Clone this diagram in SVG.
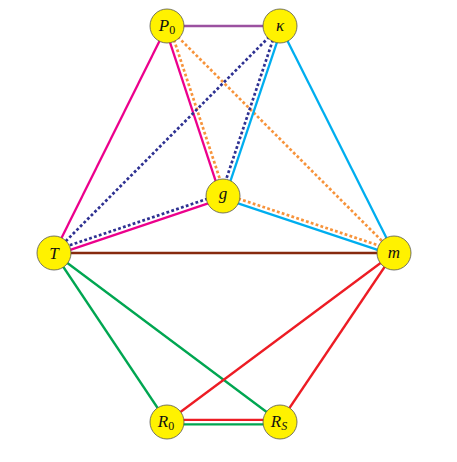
<svg xmlns="http://www.w3.org/2000/svg" width="457" height="462" viewBox="0 0 457 462">
<style>
.e{fill:none;stroke-width:2.3}
.d{stroke-width:2.7;stroke-dasharray:2.8 2.3}
.mag{stroke:#ec008c}.org{stroke:#f7943c}.nav{stroke:#2e3192}.cya{stroke:#00aeef}
.pur{stroke:#9b51a0}.brn{stroke:#862a0e}.grn{stroke:#00a651}.red{stroke:#ed1c24}
.n circle{fill:#fff200;stroke:#555;stroke-width:0.8}
.n text{font-family:"Liberation Serif","DejaVu Serif",serif;font-style:italic;font-size:17px;text-anchor:middle;fill:#111}
.n tspan.s{font-size:12px}
.n tspan.u{font-style:normal}
</style>
<rect width="457" height="462" fill="#fff"/>
<g id="connectors">
<line class="e pur" x1="167" y1="26" x2="280" y2="26"/>
<line class="e mag" x1="167" y1="26" x2="54" y2="253"/>
<line class="e mag" x1="164.8" y1="26.7" x2="220.8" y2="196.7"/>
<line class="e org d" x1="169.2" y1="25.3" x2="225.2" y2="195.3"/>
<line class="e org d" x1="167" y1="26" x2="394" y2="253"/>
<line class="e nav d" x1="280" y1="26" x2="54" y2="253"/>
<line class="e nav d" x1="277.8" y1="25.3" x2="220.8" y2="195.3"/>
<line class="e cya" x1="282.2" y1="26.7" x2="225.2" y2="196.7"/>
<line class="e cya" x1="280" y1="26" x2="394" y2="253"/>
<line class="e nav d" x1="222.3" y1="193.8" x2="53.3" y2="250.8"/>
<line class="e mag" x1="223.7" y1="198.2" x2="54.7" y2="255.2"/>
<line class="e org d" x1="223.7" y1="193.8" x2="394.7" y2="250.8"/>
<line class="e cya" x1="222.3" y1="198.2" x2="393.3" y2="255.2"/>
<line class="e brn" x1="54" y1="253" x2="394" y2="253"/>
<line class="e grn" x1="54" y1="253" x2="167" y2="422"/>
<line class="e grn" x1="54" y1="253" x2="280" y2="422"/>
<line class="e red" x1="394" y1="253" x2="167" y2="422"/>
<line class="e red" x1="394" y1="253" x2="280" y2="422"/>
<line class="e red" x1="167" y1="419.8" x2="280" y2="419.8"/>
<line class="e grn" x1="167" y1="424.4" x2="280" y2="424.4"/>
</g>
<g id="P0" class="n"><circle cx="167" cy="26" r="17"/><text x="167" y="31">P<tspan class="s u" dy="3">0</tspan></text></g>
<g id="kappa" class="n"><circle cx="280" cy="26" r="17"/><text x="280" y="31">κ</text></g>
<g id="g" class="n"><circle cx="223" cy="196" r="17"/><text x="223" y="199">g</text></g>
<g id="T" class="n"><circle cx="54" cy="253" r="17"/><text x="54" y="259">T</text></g>
<g id="m" class="n"><circle cx="394" cy="253" r="17"/><text x="394" y="258">m</text></g>
<g id="R0" class="n"><circle cx="167" cy="422" r="17"/><text x="166" y="427">R<tspan class="s u" dy="3">0</tspan></text></g>
<g id="RS" class="n"><circle cx="280" cy="422" r="17"/><text x="279" y="427">R<tspan class="s" dy="3">S</tspan></text></g>
</svg>
